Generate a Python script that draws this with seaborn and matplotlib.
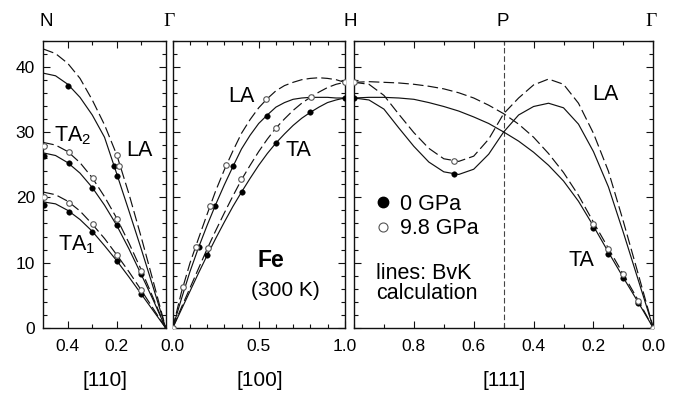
import numpy as np
import pandas as pd
import matplotlib
matplotlib.use("Agg")
import matplotlib.pyplot as plt
from matplotlib.ticker import MultipleLocator, FixedLocator
from matplotlib.lines import Line2D
import seaborn as sns

# ---------------- data ----------------
# [110] direction (Gamma -> N), reduced wavevector 0..0.5
q110 = [0.5, 0.45, 0.4, 0.35, 0.3, 0.25, 0.2, 0.15, 0.1, 0.05, 0.0]
la110_0 = [39.0, 38.6, 37.3, 35.3, 32.6, 29.2, 23.6, 17.9, 12.1, 6.1, 0.0]
la110_98 = [42.7, 42.0, 40.5, 38.2, 34.9, 31.1, 26.5, 20.5, 13.9, 7.0, 0.0]
ta2_110_0 = [26.8, 26.4, 25.3, 23.7, 21.5, 18.8, 15.7, 12.1, 8.2, 4.2, 0.0]
ta2_110_98 = [28.4, 28.0, 27.0, 25.3, 23.0, 20.1, 16.8, 13.0, 8.9, 4.5, 0.0]
ta1_110_0 = [19.3, 19.0, 18.0, 16.6, 14.8, 12.6, 10.3, 7.8, 5.2, 2.6, 0.0]
ta1_110_98 = [20.8, 20.4, 19.4, 17.9, 15.9, 13.7, 11.2, 8.6, 5.8, 2.9, 0.0]

pts110_q_0 = [0.4, 0.211, 0.198, 0.496, 0.397, 0.3, 0.2, 0.1, 0.496, 0.397, 0.3, 0.2, 0.1]
pts110_v_0 = [37.1, 24.8, 23.3, 26.4, 25.3, 21.5, 15.7, 8.2, 18.8, 17.7, 14.7, 10.3, 5.2]
pts110_q_98 = [0.198, 0.19, 0.496, 0.397, 0.298, 0.198, 0.099, 0.496, 0.397, 0.298, 0.198, 0.099]
pts110_v_98 = [26.5, 24.8, 27.9, 27.0, 23.0, 16.7, 8.8, 20.1, 19.2, 15.9, 11.2, 5.8]

# [100] direction (Gamma -> H)
q100 = [0.0, 0.05, 0.1, 0.15, 0.2, 0.25, 0.3, 0.35, 0.4, 0.45, 0.5,
        0.55, 0.6, 0.65, 0.7, 0.75, 0.8, 0.85, 0.9, 0.95, 1.0]
la100_0 = [0.0, 4.4, 8.6, 12.3, 15.7, 18.9, 21.9, 24.7, 27.4, 29.5, 31.3,
           32.6, 33.8, 34.5, 35.0, 35.2, 35.3, 35.3, 35.3, 35.2, 35.2]
la100_98 = [0.0, 5.4, 9.9, 13.7, 17.4, 21.0, 24.2, 27.1, 29.8, 31.9, 33.7,
            35.1, 36.3, 37.1, 37.6, 38.0, 38.2, 38.3, 38.2, 38.0, 37.6]
ta100_0 = [0.0, 2.8, 5.6, 8.4, 11.1, 13.7, 16.2, 18.6, 20.8, 22.9, 24.9,
           26.7, 28.3, 29.7, 31.0, 32.1, 33.0, 33.8, 34.5, 34.9, 35.2]
ta100_98 = [0.0, 3.1, 6.1, 9.1, 12.1, 14.9, 17.6, 20.2, 22.7, 24.9, 27.0,
            28.9, 30.6, 32.0, 33.3, 34.4, 35.3, 36.1, 36.8, 37.3, 37.6]

pts100_q_0 = [0.151, 0.2, 0.246, 0.352, 0.4, 0.551, 0.6, 0.8, 1.0]
pts100_v_0 = [12.4, 11.1, 18.6, 24.8, 20.8, 32.5, 28.3, 33.0, 35.2]
pts100_q_98 = [0.0, 0.058, 0.136, 0.203, 0.217, 0.31, 0.397, 0.545, 0.6, 0.803, 1.0]
pts100_v_98 = [0.0, 6.2, 12.4, 12.2, 18.6, 24.9, 22.8, 35.1, 30.6, 35.3, 37.6]

# [111] direction (H -> P -> Gamma)
q111 = [1.0, 0.95, 0.9, 0.85, 0.8, 0.75, 0.7, 0.65, 0.6, 0.55, 0.5,
        0.45, 0.4, 0.35, 0.3, 0.25, 0.2, 0.15, 0.1, 0.05, 0.0]
la111_0 = [35.2, 34.9, 33.5, 30.6, 27.8, 25.4, 23.9, 23.5, 24.3, 26.6, 30.0,
           32.6, 33.9, 34.4, 33.7, 31.2, 27.0, 21.6, 14.6, 7.3, 0.0]
la111_98 = [37.6, 37.3, 35.6, 32.7, 29.9, 27.5, 25.9, 25.5, 26.3, 28.9, 32.8,
            35.2, 37.2, 38.1, 37.3, 34.4, 29.8, 24.0, 16.3, 8.2, 0.0]
ta111_0 = [35.2, 35.3, 35.3, 35.2, 35.0, 34.5, 33.9, 33.2, 32.3, 31.3, 30.0,
           28.6, 26.9, 24.9, 22.5, 19.4, 15.6, 11.6, 7.7, 3.9, 0.0]
ta111_98 = [37.6, 37.7, 37.6, 37.5, 37.3, 37.0, 36.6, 36.0, 35.2, 34.1, 32.8,
            31.2, 29.2, 26.7, 23.8, 20.3, 16.2, 12.2, 8.2, 4.2, 0.0]

pts111_q_0 = [1.0, 0.667, 0.2, 0.15, 0.1, 0.05]
pts111_v_0 = [35.2, 23.5, 15.3, 11.3, 7.6, 3.8]
pts111_q_98 = [1.0, 0.667, 0.2, 0.15, 0.1, 0.05, 0.0]
pts111_v_98 = [37.6, 25.5, 15.9, 12.1, 8.2, 4.2, 0.0]

y_ticks = [0, 10, 20, 30, 40]
x_ticks_110 = [0.4, 0.2]
x_ticks_100 = [0.0, 0.5, 1.0]
x_ticks_111 = [0.8, 0.6, 0.4, 0.2, 0.0]

# ---------------- style ----------------
sns.set_theme(style="ticks")
plt.rcParams["font.family"] = ["Liberation Sans", "DejaVu Sans"]
plt.rcParams["mathtext.fontset"] = "custom"
plt.rcParams["mathtext.rm"] = "Liberation Sans"
plt.rcParams["mathtext.default"] = "regular"
plt.rcParams["axes.linewidth"] = 1.0
plt.rcParams["axes.edgecolor"] = "#111111"
plt.rcParams["text.color"] = "black"
plt.rcParams["xtick.labelcolor"] = "black"
plt.rcParams["ytick.labelcolor"] = "black"
plt.rcParams["xtick.color"] = "#111111"
plt.rcParams["ytick.color"] = "#111111"

W, H = 678, 395
fig = plt.figure(figsize=(W / 100, H / 100), dpi=100)

def px_rect(x0, x1, ytop, ybot):
    return [x0 / W, 1 - ybot / H, (x1 - x0) / W, (ybot - ytop) / H]

ax1 = fig.add_axes(px_rect(43.3, 165.7, 40.5, 328))
ax2 = fig.add_axes(px_rect(172.7, 344.7, 40.5, 328))
ax3 = fig.add_axes(px_rect(354.0, 653.3, 40.5, 328))

LC = "#111111"
LW = 0.85
DASH = (0, (9, 3.5))
OPEN_EC = "#555555"

def curves(ax, q, pairs):
    for v0, v98 in pairs:
        sns.lineplot(x=q, y=v0, ax=ax, sort=False, estimator=None,
                     color=LC, linewidth=LW, zorder=2)
        sns.lineplot(x=q, y=v98, ax=ax, sort=False, estimator=None,
                     color=LC, linewidth=LW, linestyle=DASH, zorder=2)

def points(ax, q0, v0, q98, v98):
    sns.scatterplot(x=q0, y=v0, ax=ax, s=16, color="black",
                    edgecolor="black", linewidth=0.3, zorder=4)
    sns.scatterplot(x=q98, y=v98, ax=ax, s=16, color="white",
                    edgecolor=OPEN_EC, linewidth=0.8, zorder=5)

curves(ax1, q110, [(la110_0, la110_98), (ta2_110_0, ta2_110_98), (ta1_110_0, ta1_110_98)])
points(ax1, pts110_q_0, pts110_v_0, pts110_q_98, pts110_v_98)
curves(ax2, q100, [(la100_0, la100_98), (ta100_0, ta100_98)])
points(ax2, pts100_q_0, pts100_v_0, pts100_q_98, pts100_v_98)
curves(ax3, q111, [(la111_0, la111_98), (ta111_0, ta111_98)])
points(ax3, pts111_q_0, pts111_v_0, pts111_q_98, pts111_v_98)
ax3.axvline(0.5, color="#444444", linewidth=0.8, linestyle=(0, (5, 2.5)), zorder=1)

for ax in (ax1, ax2, ax3):
    ax.set_ylim(0, 44)
    ax.yaxis.set_major_locator(FixedLocator(y_ticks))
    ax.yaxis.set_minor_locator(MultipleLocator(2))
    ax.tick_params(which="both", direction="in", top=True, right=True, width=0.8)
    ax.tick_params(which="major", length=5, labelsize=12.5)
    ax.tick_params(which="minor", length=3)
    ax.tick_params(axis="x", pad=8)
    ax.tick_params(axis="y", pad=6)
    ax.set_xlabel("")
    ax.set_ylabel("")
    for s in ax.spines.values():
        s.set_visible(True)

ax1.set_xlim(0.5, 0.0)
ax1.xaxis.set_major_locator(FixedLocator(x_ticks_110))
ax1.xaxis.set_minor_locator(FixedLocator([0.3, 0.1]))
ax1.set_xticklabels([f"{t:.1f}" for t in x_ticks_110])

ax2.set_xlim(0.0, 1.0)
ax2.xaxis.set_major_locator(FixedLocator(x_ticks_100))
ax2.xaxis.set_minor_locator(MultipleLocator(0.1))
ax2.set_xticklabels([f"{t:.1f}" for t in x_ticks_100])
ax2.tick_params(axis="y", labelleft=False)

ax3.set_xlim(1.0, 0.0)
ax3.xaxis.set_major_locator(FixedLocator(x_ticks_111))
ax3.xaxis.set_minor_locator(FixedLocator([1.0, 0.9, 0.7, 0.5, 0.3, 0.1]))
ax3.set_xticklabels([f"{t:.1f}" for t in x_ticks_111])
ax3.tick_params(axis="y", labelleft=False)

ax1.set_yticklabels([str(t) for t in y_ticks])

# branch labels
FS = 15.5
ax1.text(0.109, 27.1, "LA", fontsize=FS, ha="center", va="center")
ax1.text(0.381, 29.5, "TA$_2$", fontsize=FS, ha="center", va="center")
ax1.text(0.362, 12.7, "TA$_1$", fontsize=FS, ha="center", va="center")
ax2.text(0.40, 35.5, "LA", fontsize=FS, ha="center", va="center")
ax2.text(0.731, 27.2, "TA", fontsize=FS, ha="center", va="center")
ax2.text(0.569, 10.3, "Fe", fontsize=16.5, fontweight="bold", ha="center", va="center")
ax2.text(0.656, 5.8, "(300 K)", fontsize=15, ha="center", va="center")
ax3.text(0.161, 35.7, "LA", fontsize=FS, ha="center", va="center")
ax3.text(0.240, 10.4, "TA", fontsize=FS, ha="center", va="center")
ax3.text(0.926, 6.75, "lines: BvK\ncalculation", fontsize=15.5, ha="left",
         va="center", linespacing=0.95)

handles = [Line2D([], [], linestyle="none", marker="o", markersize=7.5,
                  markerfacecolor="black", markeredgecolor="black"),
           Line2D([], [], linestyle="none", marker="o", markersize=6.5,
                  markerfacecolor="white", markeredgecolor=OPEN_EC, markeredgewidth=0.8)]
fig.legend(handles, ["0 GPa", "9.8 GPa"], loc="center left",
           bbox_to_anchor=(372 / W, 1 - 216.5 / H), frameon=False,
           fontsize=15.5, handlelength=1.0, handletextpad=0.32,
           labelspacing=0.15, borderpad=0, borderaxespad=0)

# symmetry point labels
ty = 1 - 21.7 / H
fig.text(46 / W, ty, "N", fontsize=13.5, ha="center", va="center")
fig.text(169.5 / W, ty, "\u0393", fontsize=14, ha="center", va="center",
         family=["Liberation Serif", "DejaVu Serif"])
fig.text(350 / W, ty, "H", fontsize=13.5, ha="center", va="center")
fig.text(502.5 / W, ty, "P", fontsize=13.5, ha="center", va="center")
fig.text(651.5 / W, ty, "\u0393", fontsize=14, ha="center", va="center",
         family=["Liberation Serif", "DejaVu Serif"])

# direction labels
by = 1 - 380 / H
fig.text(105 / W, by, "[110]", fontsize=15, ha="center", va="center")
fig.text(259.5 / W, by, "[100]", fontsize=15, ha="center", va="center")
fig.text(504 / W, by, "[111]", fontsize=15, ha="center", va="center")

fig.savefig("out.png", dpi=100, facecolor="white")
